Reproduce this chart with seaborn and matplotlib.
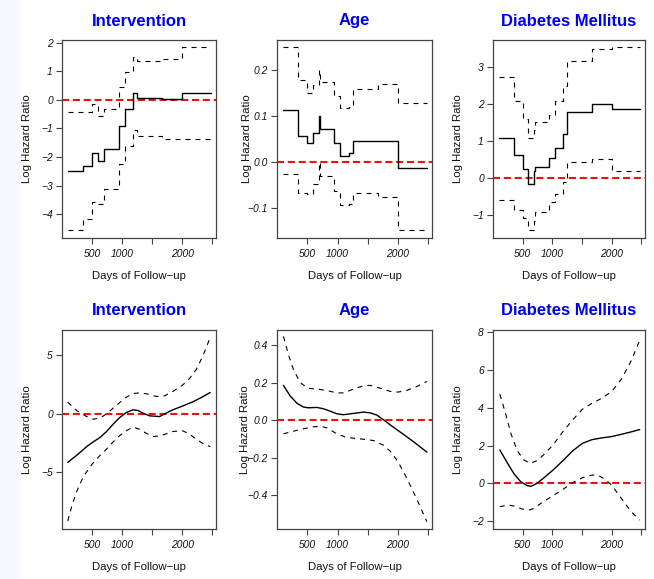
import numpy as np
import pandas as pd
import matplotlib
matplotlib.use("Agg")
import matplotlib.pyplot as plt
import seaborn as sns
from matplotlib.patches import Rectangle

# ---------------- data ----------------
titles = ["Intervention", "Age", "Diabetes Mellitus"]
x_label = "Days of Follow\u2212up"
y_label = "Log Hazard Ratio"
x_ticks = [500, 1000, 1500, 2000, 2500]
x_tick_labels = ["500", "1000", "", "2000", ""]

# top row: step-function estimates (event times shared)
t_step = [100, 350, 500, 590, 690, 700, 945, 1040, 1185, 1250, 1665, 2000, 2475]

int_step_est = [-2.5, -2.3, -1.86, -2.13, -2.13, -1.73, -0.9, -0.33, 0.25, 0.05, 0.03, 0.23, 0.23]
int_step_up = [-0.43, -0.43, -0.16, -0.58, -0.58, -0.33, 0.44, 0.99, 1.51, 1.35, 1.42, 1.84, 1.84]
int_step_lo = [-4.57, -4.19, -3.57, -3.66, -3.66, -3.12, -2.23, -1.63, -1.07, -1.28, -1.37, -1.37, -1.37]

age_step_est = [0.113, 0.057, 0.041, 0.064, 0.10, 0.072, 0.041, 0.014, 0.021, 0.046, 0.047, -0.012, -0.012]
age_step_up = [0.251, 0.18, 0.151, 0.168, 0.20, 0.174, 0.144, 0.118, 0.12, 0.159, 0.17, 0.128, 0.128]
age_step_lo = [-0.025, -0.066, -0.07, -0.048, 0.0, -0.03, -0.062, -0.093, -0.09, -0.068, -0.075, -0.148, -0.148]

dm_step_est = [1.08, 0.62, 0.26, -0.16, 0.2, 0.3, 0.56, 0.83, 1.2, 1.8, 2.0, 1.87, 1.87]
dm_step_up = [2.74, 2.08, 1.59, 1.09, 1.3, 1.52, 1.72, 2.09, 2.48, 3.16, 3.49, 3.54, 3.54]
dm_step_lo = [-0.58, -0.85, -1.07, -1.39, -1.15, -0.91, -0.65, -0.41, -0.1, 0.44, 0.53, 0.21, 0.21]

# bottom row: smooth estimates
int_est_x = [91, 240, 406, 500, 627, 738, 848, 959, 1070, 1180, 1263, 1346, 1457, 1623, 1733, 1844, 2000, 2176, 2342, 2469]
int_est_y = [-4.2, -3.6, -2.85, -2.5, -2.07, -1.55, -0.92, -0.34, 0.09, 0.32, 0.26, 0.03, -0.2, -0.26, 0.03, 0.32, 0.63, 1.0, 1.44, 1.81]
int_up_x = [91, 240, 406, 517, 627, 738, 848, 959, 1070, 1180, 1291, 1401, 1567, 1706, 1844, 2000, 2120, 2231, 2342, 2469]
int_up_y = [0.98, 0.26, -0.26, -0.49, -0.4, -0.03, 0.46, 0.95, 1.41, 1.72, 1.78, 1.7, 1.47, 1.52, 1.9, 2.41, 2.99, 3.76, 4.91, 6.55]
int_lo_x = [91, 157, 240, 351, 500, 627, 738, 848, 959, 1070, 1180, 1291, 1401, 1512, 1623, 1733, 1844, 2000, 2120, 2231, 2342, 2469]
int_lo_y = [-9.25, -8.0, -6.72, -5.43, -4.34, -3.62, -3.07, -2.44, -1.9, -1.47, -1.18, -1.35, -1.7, -1.98, -1.93, -1.75, -1.55, -1.47, -1.75, -2.21, -2.56, -2.85]

age_est_x = [102, 212, 323, 434, 517, 655, 765, 876, 987, 1097, 1263, 1429, 1540, 1650, 1761, 1871, 2000, 2148, 2314, 2480]
age_est_y = [0.186, 0.13, 0.091, 0.07, 0.066, 0.068, 0.061, 0.048, 0.034, 0.029, 0.036, 0.043, 0.039, 0.027, 0.002, -0.025, -0.055, -0.089, -0.129, -0.171]
age_up_x = [102, 185, 268, 378, 500, 655, 821, 987, 1097, 1263, 1429, 1540, 1706, 1871, 2000, 2148, 2314, 2480]
age_up_y = [0.448, 0.35, 0.27, 0.202, 0.171, 0.166, 0.159, 0.145, 0.146, 0.166, 0.184, 0.186, 0.171, 0.154, 0.15, 0.159, 0.18, 0.207]
age_lo_x = [102, 268, 434, 600, 710, 821, 987, 1153, 1374, 1595, 1761, 1871, 2000, 2148, 2314, 2480]
age_lo_y = [-0.073, -0.059, -0.046, -0.036, -0.032, -0.041, -0.073, -0.093, -0.1, -0.109, -0.134, -0.166, -0.221, -0.311, -0.423, -0.543]

dm_est_x = [110, 242, 352, 462, 572, 638, 737, 847, 1012, 1177, 1341, 1506, 1671, 1836, 2001, 2166, 2332, 2475]
dm_est_y = [1.77, 1.06, 0.5, 0.09, -0.12, -0.16, 0.0, 0.27, 0.71, 1.2, 1.72, 2.12, 2.32, 2.41, 2.48, 2.6, 2.73, 2.85]
dm_up_x = [110, 214, 297, 407, 517, 627, 737, 847, 1012, 1177, 1341, 1506, 1671, 1836, 2001, 2166, 2332, 2475]
dm_up_y = [4.73, 3.63, 2.65, 1.72, 1.24, 1.06, 1.2, 1.5, 2.04, 2.74, 3.36, 3.93, 4.25, 4.51, 4.87, 5.52, 6.5, 7.58]
dm_lo_x = [110, 242, 352, 489, 600, 682, 847, 1012, 1177, 1341, 1506, 1671, 1782, 1892, 2001, 2166, 2332, 2475]
dm_lo_y = [-1.24, -1.15, -1.2, -1.36, -1.42, -1.33, -0.97, -0.65, -0.32, 0.04, 0.3, 0.44, 0.41, 0.21, -0.09, -0.8, -1.5, -1.95]

# y ticks / labels per panel
top_yticks = [[-4, -3, -2, -1, 0, 1, 2], [-0.1, 0.0, 0.1, 0.2], [-1, 0, 1, 2, 3]]
top_ylabels = [["\u22124", "\u22123", "\u22122", "\u22121", "0", "1", "2"],
               ["\u22120.1", "0.0", "0.1", "0.2"],
               ["\u22121", "0", "1", "2", "3"]]
bot_yticks = [[-5, 0, 5], [-0.4, -0.2, 0.0, 0.2, 0.4], [-2, 0, 2, 4, 6, 8]]
bot_ylabels = [["\u22125", "0", "5"],
               ["\u22120.4", "\u22120.2", "0.0", "0.2", "0.4"],
               ["\u22122", "0", "2", "4", "6", "8"]]
top_ylims = [(-4.84, 2.1), (-0.165, 0.266), (-1.61, 3.73)]
bot_ylims = [(-9.94, 7.19), (-0.582, 0.482), (-2.42, 8.13)]

# ---------------- style ----------------
sns.set_style("ticks")
plt.rcParams["font.family"] = ["Liberation Sans", "DejaVu Sans"]
plt.rcParams["axes.unicode_minus"] = True

W, H = 654, 579
fig = plt.figure(figsize=(W / 100, H / 100), dpi=100)
fig.patches.append(Rectangle((0, 0), 21 / W, 1, transform=fig.transFigure,
                             facecolor="#f8f8ff", edgecolor="none", zorder=-10))

col_left = [62, 277, 493]
col_width = [154, 155, 152]
row_top = [40, 330]
row_h = [198, 199]
ylab_x = [[32, 251.5, 463], [32, 249.5, 463]]

frame_col = "#444444"
solid_kw = dict(color="black", lw=1.0)
dash_kw = dict(color="black", lw=0.8, linestyle=(0, (4.5, 4.5)))


def style_axis(ax, r, c, yt, yl, ylim):
    ax.set_xlim(-5, 2565)
    ax.set_ylim(*ylim)
    ax.set_xticks(x_ticks, labels=x_tick_labels, fontstyle="italic", fontsize=7.4)
    ax.set_yticks(yt, labels=yl, fontstyle="italic", fontsize=7.4)
    ax.tick_params(axis="both", direction="out", length=4, width=0.8,
                   color=frame_col, labelcolor="#111111")
    ax.tick_params(axis="x", pad=4)
    ax.tick_params(axis="y", pad=2.5)
    for s in ax.spines.values():
        s.set_visible(True)
        s.set_color(frame_col)
        s.set_linewidth(0.9)
    ax.axhline(0, color="#ee1111", lw=1.5, linestyle=(0, (3.4, 1.8)), zorder=1)
    ax.set_xlabel(x_label, fontsize=8.2, color="#111111")
    ax.set_ylabel(y_label, fontsize=8.2, color="#111111")
    w = col_width[c]
    h = row_h[r]
    ax.xaxis.set_label_coords(0.5, -33 / h)
    ax.yaxis.set_label_coords((ylab_x[r][c] - col_left[c]) / w, 0.5)
    ax.text(0.5, 1 + 19 / h, titles[c], transform=ax.transAxes, ha="center",
            va="center", fontsize=12, fontweight="bold", color="#0000f0")


top_series = [(int_step_est, int_step_up, int_step_lo),
              (age_step_est, age_step_up, age_step_lo),
              (dm_step_est, dm_step_up, dm_step_lo)]
bot_series = [((int_est_x, int_est_y), (int_up_x, int_up_y), (int_lo_x, int_lo_y)),
              ((age_est_x, age_est_y), (age_up_x, age_up_y), (age_lo_x, age_lo_y)),
              ((dm_est_x, dm_est_y), (dm_up_x, dm_up_y), (dm_lo_x, dm_lo_y))]

for r in range(2):
    for c in range(3):
        rect = [col_left[c] / W, 1 - (row_top[r] + row_h[r]) / H,
                col_width[c] / W, row_h[r] / H]
        ax = fig.add_axes(rect)
        ax.set_facecolor("white")
        if r == 0:
            est, up, lo = top_series[c]
            df = pd.DataFrame({"t": t_step, "est": est, "up": up, "lo": lo})
            sns.lineplot(data=df, x="t", y="up", ax=ax, estimator=None,
                         drawstyle="steps-post", **dash_kw)
            sns.lineplot(data=df, x="t", y="lo", ax=ax, estimator=None,
                         drawstyle="steps-post", **dash_kw)
            sns.lineplot(data=df, x="t", y="est", ax=ax, estimator=None,
                         drawstyle="steps-post", **solid_kw)
            style_axis(ax, r, c, top_yticks[c], top_ylabels[c], top_ylims[c])
        else:
            (ex, ey), (ux, uy), (lx, ly) = bot_series[c]
            sns.lineplot(x=ux, y=uy, ax=ax, estimator=None, **dash_kw)
            sns.lineplot(x=lx, y=ly, ax=ax, estimator=None, **dash_kw)
            sns.lineplot(x=ex, y=ey, ax=ax, estimator=None, **solid_kw)
            style_axis(ax, r, c, bot_yticks[c], bot_ylabels[c], bot_ylims[c])

fig.savefig("out.png", dpi=100)
